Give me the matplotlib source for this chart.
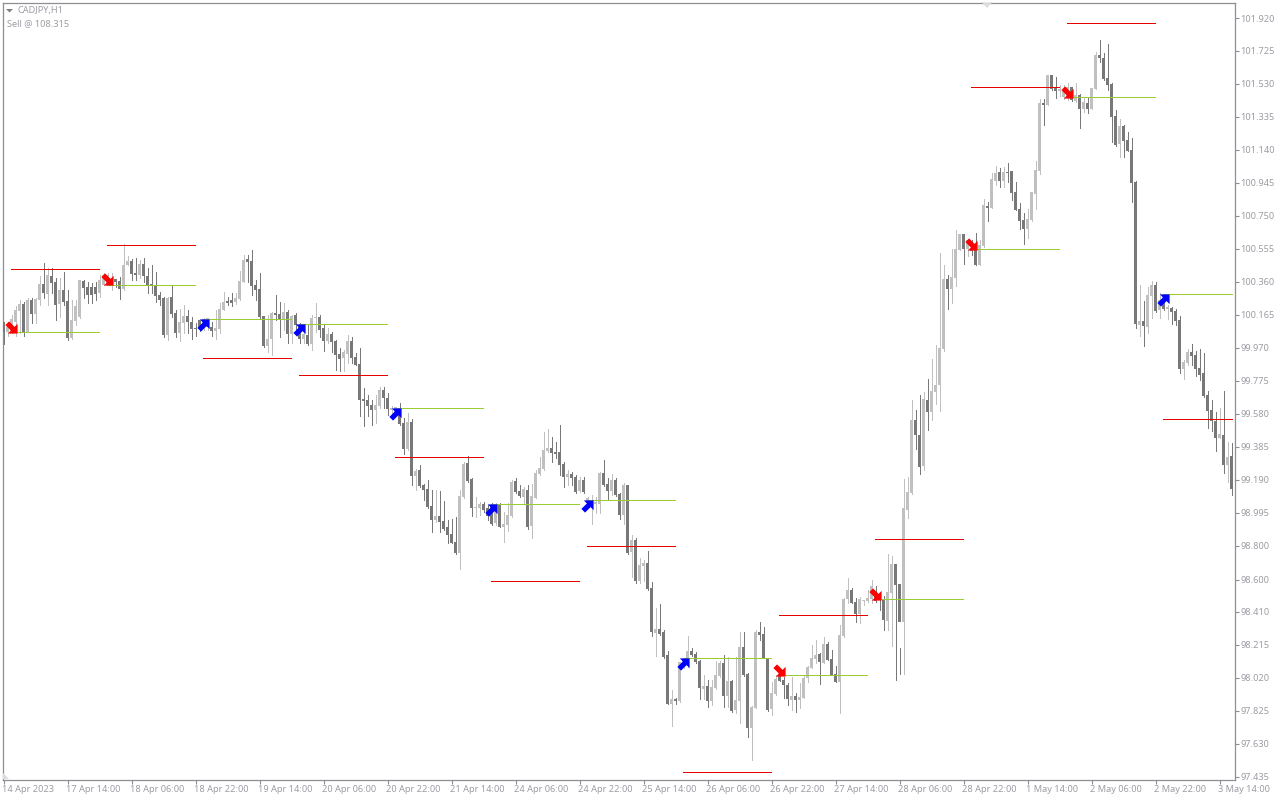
import matplotlib
matplotlib.use("Agg")
import matplotlib.pyplot as plt
from matplotlib.patches import Polygon
from matplotlib.path import Path
from matplotlib.transforms import IdentityTransform, ScaledTranslation
import numpy as np

open_prices = [
100.123,100.064,100.064,100.123,100.188,100.229,100.064,100.253,100.170,100.253,100.348,100.288,100.395,100.359,100.229,100.312,
100.247,100.028,100.129,100.153,100.365,100.330,100.330,100.330,100.294,100.342,100.342,100.342,100.377,100.365,100.318,100.460,
100.483,100.413,100.401,100.466,100.395,100.348,100.342,100.283,100.265,100.046,100.271,100.176,100.058,100.117,100.158,100.123,
100.088,100.135,100.082,100.093,100.093,100.070,100.082,100.194,100.247,100.253,100.241,100.259,100.359,100.495,100.483,100.342,
100.318,100.158,99.981,100.023,100.176,100.170,100.141,100.182,100.052,100.164,100.105,100.023,100.046,99.993,100.147,100.153,
100.088,100.011,100.052,100.011,99.934,99.911,99.934,100.011,99.917,99.875,99.668,99.662,99.632,99.603,99.627,99.721,
99.674,99.603,99.568,99.615,99.526,99.372,99.532,99.213,99.248,99.159,99.136,99.036,98.953,98.977,98.947,98.912,
98.870,98.823,98.758,99.089,99.289,99.195,99.024,99.024,99.047,99.024,99.041,98.935,99.041,98.912,98.924,98.977,
99.183,99.124,99.089,99.130,98.918,99.083,99.224,99.254,99.360,99.378,99.354,99.354,99.283,99.207,99.224,99.207,
99.124,99.189,99.053,99.047,99.047,99.047,99.230,99.165,99.124,99.189,99.106,98.982,99.159,98.764,98.835,98.592,
98.681,98.698,98.551,98.285,98.309,98.291,98.155,97.865,97.895,97.883,98.095,98.137,98.179,98.161,98.119,97.954,
97.972,97.883,97.960,98.031,98.107,97.913,98.001,97.830,97.883,98.202,98.042,97.724,97.842,98.291,98.279,98.131,
97.836,97.924,98.036,98.007,97.977,97.889,97.913,97.889,97.901,98.019,98.078,98.131,98.161,98.107,98.220,98.131,
98.042,97.995,98.268,98.486,98.539,98.468,98.397,98.474,98.474,98.486,98.504,98.492,98.486,98.356,98.521,98.693,
98.575,98.350,99.012,99.112,99.544,99.455,99.272,99.662,99.591,99.709,99.751,99.964,100.377,100.318,100.383,100.548,
100.643,100.554,100.560,100.578,100.460,100.572,100.809,100.797,100.956,101.009,100.956,101.009,101.015,100.891,100.791,100.726,
100.673,100.726,100.879,101.015,101.417,101.405,101.583,101.506,101.488,101.453,101.447,101.512,101.429,101.464,101.382,101.417,
101.382,101.500,101.701,101.683,101.565,101.530,101.341,101.175,101.282,101.199,101.140,100.950,100.105,100.129,100.093,100.277,
100.342,100.194,100.253,100.200,100.206,100.188,100.135,99.846,99.881,99.946,99.928,99.852,99.822,99.692,99.603,99.538,
99.437,99.455,99.278,99.331]

close_prices = [
100.064,100.093,100.141,100.194,100.229,100.064,100.253,100.170,100.259,100.348,100.294,100.401,100.353,100.223,100.312,100.241,
100.028,100.135,100.217,100.371,100.324,100.283,100.283,100.288,100.371,100.401,100.401,100.377,100.359,100.318,100.460,100.483,
100.407,100.401,100.466,100.395,100.342,100.336,100.277,100.253,100.046,100.265,100.170,100.058,100.123,100.158,100.123,100.082,
100.082,100.082,100.141,100.147,100.070,100.088,100.200,100.241,100.235,100.235,100.265,100.365,100.489,100.477,100.336,100.312,
100.153,99.981,100.023,100.176,100.164,100.141,100.182,100.052,100.158,100.105,100.023,100.052,99.993,100.147,100.153,100.076,
100.011,100.052,100.005,99.928,99.905,99.946,100.011,99.911,99.869,99.662,99.656,99.627,99.603,99.632,99.721,99.674,
99.609,99.615,99.621,99.520,99.372,99.532,99.213,99.242,99.153,99.130,99.030,98.953,98.977,98.941,98.900,98.864,
98.817,98.758,99.095,99.283,99.183,99.024,99.030,99.047,99.012,98.977,98.929,99.012,98.912,98.929,98.982,99.177,
99.118,99.095,99.136,98.912,99.095,99.230,99.260,99.366,99.378,99.348,99.342,99.278,99.207,99.224,99.201,99.118,
99.189,99.118,99.083,99.059,99.059,99.230,99.159,99.124,99.189,99.100,98.982,99.159,98.758,98.835,98.592,98.687,
98.698,98.545,98.291,98.309,98.279,98.143,97.865,97.895,97.883,98.113,98.125,98.179,98.155,98.113,97.960,97.972,
97.883,97.966,98.036,98.107,97.913,98.001,97.824,97.889,98.202,98.036,97.724,97.848,98.291,98.273,98.137,97.830,
97.930,98.013,98.001,97.977,97.895,97.913,97.889,97.907,98.019,98.084,98.137,98.155,98.113,98.220,98.125,98.036,
97.995,98.273,98.486,98.539,98.462,98.397,98.486,98.480,98.492,98.563,98.474,98.486,98.362,98.527,98.693,98.569,
98.350,99.024,99.118,99.544,99.455,99.266,99.668,99.591,99.715,99.751,99.970,100.377,100.318,100.389,100.554,100.643,
100.554,100.608,100.543,100.460,100.578,100.815,100.797,100.968,101.004,100.956,101.009,101.004,100.885,100.785,100.720,100.673,
100.732,100.891,101.021,101.417,101.405,101.583,101.500,101.488,101.500,101.500,101.512,101.435,101.464,101.382,101.423,101.382,
101.506,101.701,101.683,101.559,101.524,101.335,101.169,101.282,101.193,101.134,100.944,100.111,100.129,100.099,100.283,100.342,
100.188,100.253,100.200,100.212,100.182,100.129,99.846,99.887,99.946,99.922,99.846,99.810,99.686,99.597,99.538,99.437,
99.461,99.278,99.325,99.136]

high_prices = [
100.123,100.117,100.164,100.217,100.253,100.241,100.265,100.265,100.265,100.395,100.472,100.442,100.442,100.383,100.383,100.418,
100.312,100.253,100.253,100.371,100.371,100.359,100.353,100.359,100.401,100.413,100.413,100.413,100.377,100.389,100.584,100.513,
100.495,100.501,100.489,100.501,100.442,100.460,100.418,100.300,100.271,100.271,100.336,100.194,100.200,100.223,100.194,100.153,
100.117,100.135,100.147,100.147,100.123,100.194,100.235,100.300,100.271,100.294,100.294,100.424,100.519,100.519,100.548,100.371,
100.413,100.158,100.164,100.182,100.283,100.241,100.235,100.194,100.164,100.176,100.117,100.093,100.105,100.164,100.235,100.164,
100.105,100.088,100.064,100.017,99.969,99.958,100.046,100.035,99.940,99.969,99.733,99.692,99.662,99.692,99.739,99.739,
99.703,99.627,99.603,99.644,99.556,99.585,99.550,99.254,99.278,99.165,99.189,99.130,99.130,99.124,99.065,98.953,
98.959,98.970,99.130,99.295,99.331,99.201,99.089,99.059,99.059,99.041,99.053,99.053,99.053,99.000,99.053,99.189,
99.201,99.160,99.148,99.160,99.166,99.248,99.325,99.473,99.490,99.443,99.413,99.514,99.295,99.248,99.236,99.219,
99.207,99.207,99.089,99.100,99.089,99.236,99.307,99.201,99.225,99.201,99.112,99.171,99.159,98.864,98.847,98.728,
98.716,98.770,98.586,98.432,98.456,98.303,98.179,97.948,97.900,97.924,98.137,98.267,98.197,98.173,98.125,98.037,
98.007,98.007,98.119,98.119,98.155,98.143,98.007,98.143,98.291,98.291,98.048,97.853,98.303,98.350,98.321,98.137,
97.995,98.036,98.066,98.024,97.989,98.024,97.930,97.990,98.031,98.090,98.214,98.244,98.167,98.262,98.232,98.185,
98.090,98.332,98.492,98.610,98.551,98.493,98.498,98.480,98.539,98.599,98.563,98.510,98.504,98.752,98.740,98.604,
98.195,99.196,99.207,99.662,99.603,99.691,99.709,99.786,99.904,99.987,100.530,100.460,100.400,100.554,100.667,100.643,
100.643,100.608,100.608,100.649,100.608,100.850,100.832,101.004,101.045,101.033,101.039,101.063,101.015,100.950,100.826,100.767,
100.791,100.892,101.074,101.441,101.441,101.583,101.583,101.571,101.524,101.524,101.535,101.512,101.535,101.470,101.453,101.453,
101.506,101.719,101.790,101.713,101.766,101.536,101.376,101.323,101.287,101.246,101.211,100.956,100.341,100.247,100.329,100.364,
100.360,100.294,100.283,100.223,100.212,100.200,100.158,99.899,99.964,99.993,99.952,99.964,99.940,99.715,99.662,99.591,
99.614,99.715,99.414,99.408]

low_prices = [
99.993,100.040,100.058,100.040,100.058,100.040,100.064,100.117,100.117,100.223,100.265,100.223,100.294,100.135,100.153,100.223,
100.017,100.023,100.105,100.147,100.265,100.235,100.235,100.253,100.271,100.342,100.342,100.312,100.330,100.259,100.312,100.460,
100.371,100.371,100.383,100.359,100.294,100.294,100.241,100.223,100.034,100.017,100.153,100.034,100.011,100.058,100.058,100.023,
100.040,100.070,100.076,100.076,100.040,100.023,100.058,100.194,100.223,100.217,100.229,100.253,100.359,100.359,100.283,100.253,
100.147,99.975,99.946,99.928,100.135,100.034,100.076,100.000,100.000,100.076,100.000,100.000,99.987,99.958,100.064,100.034,
99.952,99.999,99.946,99.840,99.834,99.834,99.881,99.881,99.869,99.568,99.509,99.568,99.514,99.526,99.615,99.615,
99.573,99.573,99.603,99.514,99.343,99.366,99.160,99.130,99.148,99.071,99.024,98.882,98.941,98.882,98.894,98.817,
98.817,98.752,98.663,99.083,99.177,98.977,98.970,98.982,99.000,98.953,98.923,98.923,98.912,98.823,98.888,98.970,
99.112,99.089,99.053,98.900,98.846,99.083,99.219,99.248,99.354,99.295,99.319,99.219,99.148,99.160,99.160,99.112,
99.118,99.112,99.041,98.929,98.994,98.994,99.154,99.071,99.100,99.094,98.959,98.929,98.752,98.615,98.581,98.581,
98.592,98.539,98.268,98.149,98.273,98.137,97.865,97.736,97.865,97.877,98.078,98.084,98.149,98.108,97.895,97.895,
97.848,97.860,97.954,98.025,97.848,97.848,97.818,97.812,97.753,98.031,97.670,97.534,97.842,98.244,98.137,97.824,
97.800,97.918,98.001,97.901,97.860,97.830,97.818,97.842,97.901,97.996,98.078,98.108,97.984,98.108,98.125,98.037,
97.995,97.812,98.261,98.462,98.462,98.350,98.344,98.450,98.468,98.462,98.469,98.421,98.304,98.303,98.208,98.006,
98.042,98.042,98.964,99.106,99.372,99.225,99.248,99.484,99.543,99.638,99.597,99.951,100.200,100.236,100.336,100.548,
100.466,100.513,100.519,100.460,100.459,100.566,100.719,100.797,100.933,100.921,100.921,100.950,100.844,100.785,100.673,100.585,
100.619,100.720,100.791,100.998,101.287,101.405,101.494,101.447,101.458,101.441,101.435,101.429,101.423,101.270,101.364,101.358,
101.382,101.500,101.660,101.553,101.494,101.187,101.163,101.098,101.098,101.133,100.832,100.090,100.040,99.981,100.058,100.147,
100.182,100.147,100.194,100.141,100.111,100.105,99.822,99.786,99.869,99.869,99.804,99.781,99.681,99.496,99.479,99.360,
99.437,99.231,99.177,99.100]

tick_dates = ["14 Apr 2023", "17 Apr 14:00", "18 Apr 06:00", "18 Apr 22:00", "19 Apr 14:00",
              "20 Apr 06:00", "20 Apr 22:00", "21 Apr 14:00", "24 Apr 06:00", "24 Apr 22:00",
              "25 Apr 14:00", "26 Apr 06:00", "26 Apr 22:00", "27 Apr 14:00", "28 Apr 06:00",
              "28 Apr 22:00", "1 May 14:00", "2 May 06:00", "2 May 22:00", "3 May 14:00"]
price_ticks = [97.435, 97.630, 97.825, 98.020, 98.215, 98.410, 98.600, 98.800, 98.995, 99.190,
               99.385, 99.580, 99.775, 99.970, 100.165, 100.360, 100.555, 100.750, 100.945,
               101.140, 101.335, 101.530, 101.725, 101.920]

signal_bars = [2, 26, 50, 74, 98, 122, 146, 170, 194, 218, 242, 266, 290]
signal_sides = ["sell", "sell", "buy", "buy", "buy", "buy", "buy", "buy", "sell", "sell", "sell", "sell", "buy"]
entry_levels = [100.064, 100.342, 100.141, 100.111, 99.615, 99.047, 99.071, 98.137, 98.037, 98.486, 100.554, 101.453, 100.288]
target_levels = [100.436, 100.578, 99.910, 99.810, 99.325, 98.592, 98.799, 97.463, 98.392, 98.840, 101.512, 101.890, 99.550]

UP, DOWN = "#c0c0c0", "#787878"
RED, GREEN = "#e60000", "#9acd32"
TXT, AX = "#9c9ca4", "#8e8e94"
PX = 1 / 169.2

fig = plt.figure(figsize=(12.8, 8), dpi=100, facecolor="white")
W, H = 1280, 800
ax = fig.add_axes([2.5 / W, 1 - 779.5 / H, 1232 / W, 777 / H])
ax.set_xlim(-0.25, 307.75)
ax.set_ylim(101.92 - (779.5 - 18) * PX, 101.92 + 15.5 * PX)
ax.set_facecolor("white")

o, c, hi, lo = map(np.array, (open_prices, close_prices, high_prices, low_prices))
idx = np.arange(len(o))
up = c >= o
colors = np.where(up, UP, DOWN)
ax.vlines(idx, lo, hi, colors=colors, linewidth=0.72, antialiased=False, zorder=2)
ax.bar(idx, np.maximum(np.abs(c - o), 0.006), bottom=np.minimum(o, c), width=0.74,
       color=colors, linewidth=0, antialiased=False, zorder=3)

last = len(o) - 1
for b, e, t in zip(signal_bars, entry_levels, target_levels):
    start, end = b - 0.25, min(b + 21.75, last)
    ax.hlines(e, start, end, colors=GREEN, linewidth=0.6, antialiased=False, zorder=4)
    ax.hlines(t, start, end, colors=RED, linewidth=0.6, antialiased=False, zorder=4)

up_arrow = Path([(1, 1), (-0.6, 1), (-0.1, 0.5), (-1, -0.4), (-0.4, -1), (0.5, -0.1), (1, -0.6), (1, 1)], closed=True)
down_arrow = Path([(x, -y) for x, y in up_arrow.vertices], closed=True)
for b, s, e in zip(signal_bars, signal_sides, entry_levels):
    if s == "buy":
        ax.plot([b - 0.05], [e - 5.5 * PX], marker=up_arrow, ms=8.8, color="#0000ff", mew=0, zorder=5)
    else:
        ax.plot([b - 0.05], [e + 5.5 * PX], marker=down_arrow, ms=8.8, color="#ff0000", mew=0, zorder=5)

for s in ("top", "right", "bottom", "left"):
    ax.spines[s].set_color(AX)
    ax.spines[s].set_linewidth(0.9)
ax.yaxis.tick_right()
ax.set_yticks(price_ticks)
ax.set_yticklabels([f"{v:.3f}" for v in price_ticks], family="Noto Sans", fontsize=6.6, color=TXT)
ax.set_xticks(idx[::16])
ax.set_xticklabels(tick_dates, family="Noto Sans", fontsize=6.6, color=TXT, ha="left")
ax.tick_params(axis="y", length=3, width=0.8, color=AX, pad=1.3)
ax.tick_params(axis="x", length=3, width=0.8, color=AX, pad=0.8)
shift = ScaledTranslation(-1.5 / 100, 0, fig.dpi_scale_trans)
for lab in ax.get_xticklabels():
    lab.set_transform(lab.get_transform() + shift)

def px(x, y):
    return (x, H - y)

fig.text(18 / W, 1 - 11 / H, "CADJPY,H1", family="Noto Sans", fontsize=6.6, color=TXT, va="center")
fig.text(7 / W, 1 - 24 / H, "Sell @ 108.315", family="Noto Sans", fontsize=6.6, color=TXT, va="center")
deco = [([px(6, 9), px(13, 9), px(9.5, 12.5)], "#808086"),
        ([px(982, 2.5), px(992, 2.5), px(987, 8)], "#dcdcdc"),
        ([px(3, 773), px(3, 779), px(9, 779)], "#dcdcdc")]
for pts, col in deco:
    fig.add_artist(Polygon(pts, closed=True, transform=IdentityTransform(), facecolor=col, edgecolor="none"))

fig.savefig("out.png", dpi=100)
